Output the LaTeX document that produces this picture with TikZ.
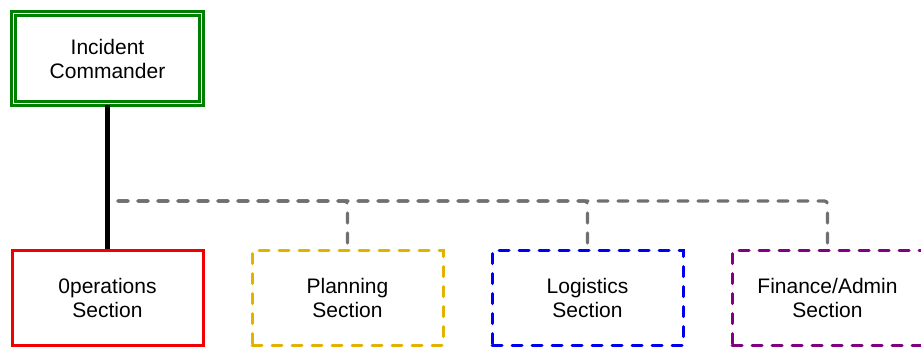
\documentclass[tikz,border=0pt]{standalone}
\usepackage{fontspec}
\setmainfont{Liberation Sans}
\usepackage{tikz}

\definecolor{icgreen}{RGB}{0,128,0}
\definecolor{opsred}{RGB}{240,0,0}
\definecolor{plangold}{RGB}{225,178,0}
\definecolor{logblue}{RGB}{0,0,240}
\definecolor{finpurple}{RGB}{128,0,128}
\definecolor{linkgray}{RGB}{112,112,112}

\begin{document}
\begin{tikzpicture}[x=1pt, y=-1pt,
  section/.style={rectangle, draw, line width=3pt, minimum width=191pt, minimum height=95pt,
    align=center, font=\fontsize{21}{24}\selectfont},
  dashedbox/.style={section, line cap=round, dash pattern=on 10pt off 10pt},
  link/.style={draw=linkgray, line width=3.2pt, line cap=round, dash pattern=on 10pt off 10pt, rounded corners=3pt}]
  \useasboundingbox (0,0) rectangle (921,349);

  % Nodes
  \node[section, draw=icgreen, double, line width=3pt, double distance=1.5pt,
    minimum width=188pt, minimum height=90pt] (commander) at (107.5,58.5) {Incident\\Commander};
  \node[section, draw=opsred] (operations) at (107.5,298) {0perations\\Section};
  \node[dashedbox, draw=plangold] (planning) at (347.5,298) {Planning\\Section};
  \node[dashedbox, draw=logblue] (logistics) at (587.5,298) {Logistics\\Section};
  \node[dashedbox, draw=finpurple] (finance) at (827.5,298) {Finance/Admin\\Section};
  \coordinate (hub) at (118,201);

  % Edges
  \draw[line width=5pt] (commander) -- (operations);
  \draw[link] (hub) -| (finance.north);
  \draw[link] (hub) -| (planning.north);
  \draw[link] (hub) -| (logistics.north);
\end{tikzpicture}
\end{document}
